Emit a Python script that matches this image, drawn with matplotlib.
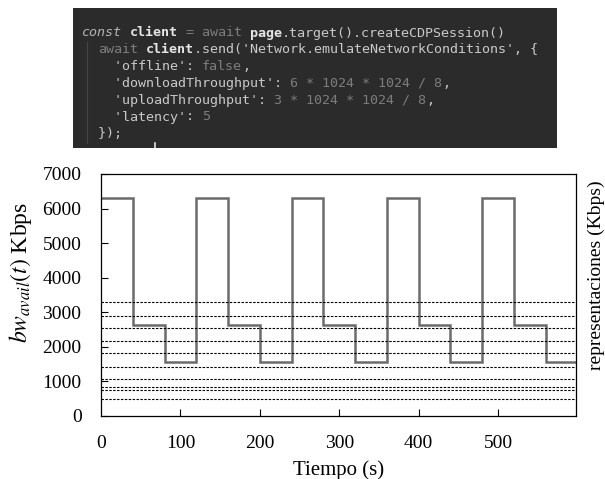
import matplotlib
matplotlib.use("Agg")
import matplotlib.pyplot as plt

# ---- data -------------------------------------------------------------
# step boundaries (s) and available bandwidth of each step (Kbps)
time_edges = [0, 40, 80, 120, 160, 200, 240, 280, 320, 360, 400, 440, 480, 520, 560, 598]
bw_avail = [6291, 2620, 1560, 6291, 2620, 1560, 6291, 2620, 1560,
            6291, 2620, 1560, 6291, 2620, 1560]
# bitrates of the available representations (Kbps)
representations = [3280, 2900, 2530, 2170, 1810, 1420, 1050, 840, 740, 490]

x_ticks = [0, 100, 200, 300, 400, 500]
y_ticks = [0, 1000, 2000, 3000, 4000, 5000, 6000, 7000]

# snippet shown above the plot: list of lines, each a list of (text, style)
code_lines = [
    [("const", "kw"), (" ", "plain"), ("client", "bold"), (" = await ", "dim"),
     ("page", "bold"), (".target().createCDPSession()", "plain")],
    [("  ", "plain"), ("await", "dim"), (" ", "plain"), ("client", "bold"),
     (".send('Network.emulateNetworkConditions', {", "plain")],
    [("    'offline'", "plain"), (": ", "plain"), ("false", "dim"), (",", "plain")],
    [("    'downloadThroughput'", "plain"), (": ", "plain"),
     ("6 * 1024 * 1024 / 8", "dim"), (",", "plain")],
    [("    'uploadThroughput'", "plain"), (": ", "plain"),
     ("3 * 1024 * 1024 / 8", "dim"), (",", "plain")],
    [("    'latency'", "plain"), (": ", "plain"), ("5", "dim")],
    [("  });", "plain")],
]

W, H = 605, 479
fig = plt.figure(figsize=(W / 100, H / 100), dpi=100)
fig.patch.set_facecolor("white")

# ---- code panel ---------------------------------------------------------
cx0, cx1, cy0, cy1 = 73, 557, 8, 148
cax = fig.add_axes([cx0 / W, 1 - cy1 / H, (cx1 - cx0) / W, (cy1 - cy0) / H])
cax.set_xlim(cx0, cx1)
cax.set_ylim(cy1, cy0)
cax.set_facecolor("#2b2b2b")
cax.set_xticks([])
cax.set_yticks([])
for s in cax.spines.values():
    s.set_visible(False)

styles = {
    "plain": dict(color="#c9c9c9", fontweight="normal", fontstyle="normal"),
    "bold": dict(color="#e6e6e6", fontweight="bold", fontstyle="normal"),
    "kw": dict(color="#b5b5b5", fontweight="normal", fontstyle="italic"),
    "dim": dict(color="#7d7d7d", fontweight="normal", fontstyle="normal"),
}
char_w = 8.0
x_start = 82
line_y0, line_dy = 33, 16.8
for i, tokens in enumerate(code_lines):
    col = 0
    y = line_y0 + i * line_dy
    for text, st in tokens:
        cax.text(x_start + col * char_w, y, text, family="DejaVu Sans Mono",
                 fontsize=9.6, va="center", ha="left", **styles[st])
        col += len(text)
# indent guide and cursor
cax.plot([87, 87], [42, 143], color="#454545", lw=0.8)
cax.plot([155, 155], [143, 148], color="#e0e0e0", lw=1.2)

# ---- main plot ----------------------------------------------------------
plt.rcParams["mathtext.fontset"] = "stix"
serif = "Liberation Serif"

ax = fig.add_axes([101 / W, 1 - 415.7 / H, 475 / W, 241.7 / H])
ax.stairs(bw_avail, time_edges, color="#6b6b6b", lw=1.8, baseline=None)
for r in representations:
    ax.axhline(r, color="black", lw=0.8, ls=(0, (2.2, 1.3)))

ax.set_xlim(0, 598)
ax.set_ylim(0, 7000)
ax.set_xticks(x_ticks)
ax.set_yticks(y_ticks)
ax.tick_params(direction="in", length=5, width=0.8, top=False, right=False,
               labelsize=14)
ax.tick_params(axis="x", pad=14)
ax.tick_params(axis="y", pad=14)
for lab in ax.get_xticklabels() + ax.get_yticklabels():
    lab.set_family(serif)
# no tick mark on x = 0
ax.xaxis.get_major_ticks()[0].tick1line.set_visible(False)
for s in ax.spines.values():
    s.set_linewidth(0.9)

ax.set_xlabel("Tiempo (s)", family=serif, fontsize=15, labelpad=6)
fig.text(21 / W, 1 - 272 / H, r"$bw_{avail}(t)$ Kbps", family=serif,
         fontsize=17, rotation=90, ha="center", va="center")
fig.text(596 / W, 1 - 275 / H, "representaciones (Kbps)", family=serif,
         fontsize=14, rotation=90, ha="center", va="center")

fig.savefig("out.png", dpi=100)
